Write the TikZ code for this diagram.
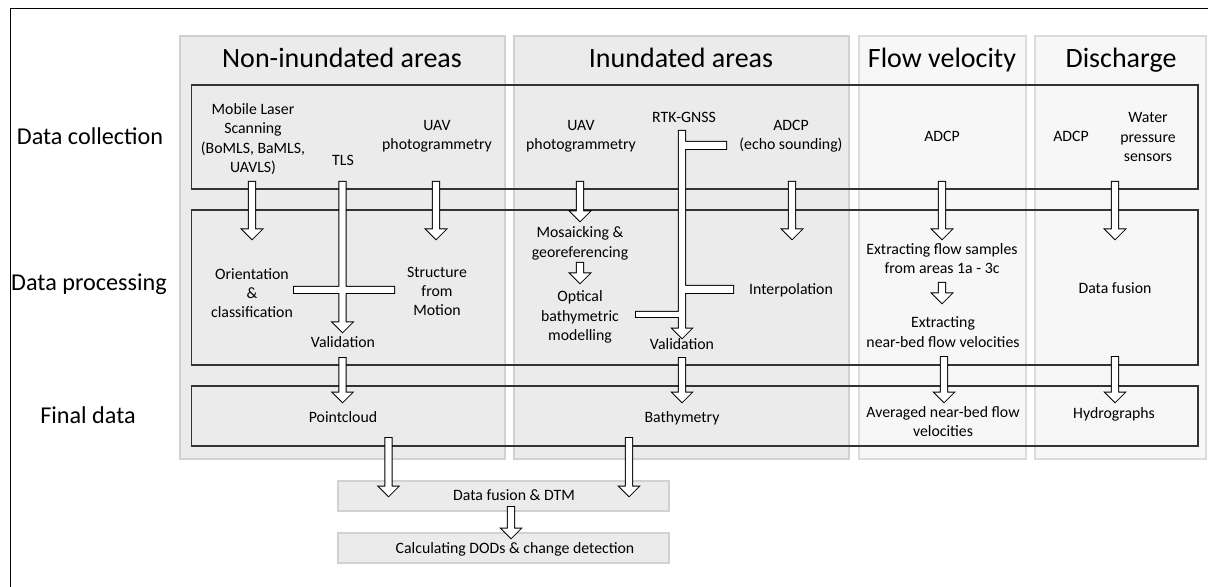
\documentclass[tikz,border=0pt]{standalone}
\usepackage{fontspec}
\setmainfont{Carlito}
\usetikzlibrary{calc}
\tikzset{
  colpanel/.style={fill=pnl,draw=pnlb,line width=0.8pt},
  colpanelw/.style={fill=pnlw,draw=pnlwb,line width=0.8pt},
  rowbox/.style={draw=black!80,line width=0.6pt},
  resbox/.style={fill=pnl,draw=pnlb,line width=0.8pt,minimum width=165.5pt,minimum height=15pt,inner sep=0pt},
  colhead/.style={font=\fontsize{14}{17}\selectfont,anchor=base,inner sep=0pt},
  rowlab/.style={font=\fontsize{12.1}{14.5}\selectfont,anchor=base,inner sep=0pt},
  txt/.style={font=\fontsize{7.9}{9.7}\selectfont,align=center,inner sep=0pt},
  txtb/.style={txt,anchor=base}
}
% hollow block arrow, optional extra branches merged into its outline
\newcommand\blockarrow[3][]{%
  \draw[line width=1pt] let \p1=(#2), \p2=(#3) in
    (\x1-1.6pt,\y1) -- (\x1-1.6pt,\y2+4.75pt) -- (\x1-4.75pt,\y2+4.75pt)
    -- (\x1,\y2) -- (\x1+4.75pt,\y2+4.75pt) -- (\x1+1.6pt,\y2+4.75pt)
    -- (\x1+1.6pt,\y1) -- cycle #1;
  \fill[white] let \p1=(#2), \p2=(#3) in
    (\x1-1.6pt,\y1) -- (\x1-1.6pt,\y2+4.75pt) -- (\x1-4.75pt,\y2+4.75pt)
    -- (\x1,\y2) -- (\x1+4.75pt,\y2+4.75pt) -- (\x1+1.6pt,\y2+4.75pt)
    -- (\x1+1.6pt,\y1) -- cycle #1;}

\begin{document}
\begin{tikzpicture}[x=0.5pt,y=-0.5pt]
    \colorlet{pnl}{black!8}
    \colorlet{pnlb}{black!18}
    \colorlet{pnlw}{black!3}
    \colorlet{pnlwb}{black!14}

    \useasboundingbox (0,0) rectangle (1208,587);
    \draw[line width=0.5pt] (10,587) -- (10,9) -- (1208,9);

    % columns
    \draw[colpanel] (180,36) rectangle (505,459);
    \draw[colpanel] (514,36) rectangle (849,459);
    \draw[colpanelw] (859,36) rectangle (1026,459);
    \draw[colpanelw] (1035,36) rectangle (1206,459);

    \node[resbox] (dtmbox) at (503.5,496) {};
    \node[resbox] (calcbox) at (503.5,548) {};

    % rows
    \draw[rowbox] (191.5,85) rectangle (1198,189);
    \draw[rowbox] (191.5,210) rectangle (1198,365);
    \draw[rowbox] (191.5,386) rectangle (1198,446);

    % arrow ends
    \coordinate (mls-o) at (252,182);      \coordinate (orient-i) at (252,239);
    \coordinate (tls-o) at (342.5,182);    \coordinate (val1-i) at (342.5,332);
    \coordinate (uav1-o) at (436,182);     \coordinate (sfm-i) at (436,239);
    \coordinate (val1-o) at (342.5,358);   \coordinate (pcl-i) at (342.5,402);
    \coordinate (pcl-o) at (388.5,438);    \coordinate (dtm-i1) at (388.5,496);
    \coordinate (uav2-o) at (580,182);     \coordinate (mosaic-i) at (580,221);
    \coordinate (mosaic-o) at (580,263);   \coordinate (optical-i) at (580,283);
    \coordinate (rtk-o) at (682,131);      \coordinate (val2-i) at (682,338);
    \coordinate (adcp1-o) at (792,182);    \coordinate (interp-i) at (792,239);
    \coordinate (val2-o) at (682,358);     \coordinate (bathy-i) at (682,402);
    \coordinate (bathy-o) at (629,438);    \coordinate (dtm-i2) at (629,496);
    \coordinate (adcp2-o) at (942,182);    \coordinate (extr1-i) at (942,239);
    \coordinate (extr1-o) at (942,283);    \coordinate (extr2-i) at (942,303);
    \coordinate (extr2-o) at (944,357);    \coordinate (avg-i) at (944,402);
    \coordinate (adcp3-o) at (1115,182);   \coordinate (dfus-i) at (1115,239);
    \coordinate (dfus-o) at (1115,357);    \coordinate (hydro-i) at (1115,402);
    \coordinate (dtm-o) at (511,507);      \coordinate (calc-i) at (511,538);

    \blockarrow{mls-o}{orient-i}
    \blockarrow[(294,287) rectangle (394,293)]{tls-o}{val1-i}
    \blockarrow{uav1-o}{sfm-i}
    \blockarrow{val1-o}{pcl-i}
    \blockarrow{pcl-o}{dtm-i1}
    \blockarrow{uav2-o}{mosaic-i}
    \blockarrow{mosaic-o}{optical-i}
    \blockarrow[(682,142) rectangle (726,149) (682,286) rectangle (733,293)
        (636,312) rectangle (682,317)]{rtk-o}{val2-i}
    \blockarrow{adcp1-o}{interp-i}
    \blockarrow{val2-o}{bathy-i}
    \blockarrow{bathy-o}{dtm-i2}
    \blockarrow{adcp2-o}{extr1-i}
    \blockarrow{extr1-o}{extr2-i}
    \blockarrow{extr2-o}{avg-i}
    \blockarrow{adcp3-o}{dfus-i}
    \blockarrow{dfus-o}{hydro-i}
    \blockarrow{dtm-o}{calc-i}

    % headings
    \node[colhead] (h-non) at (342,68) {Non-inundated areas};
    \node[colhead] (h-inu) at (681,68) {Inundated areas};
    \node[colhead] (h-flow) at (942,68) {Flow velocity};
    \node[colhead] (h-dis) at (1121,68) {Discharge};

    \node[rowlab] (r-col) at (90,145) {Data collection};
    \node[rowlab] (r-pro) at (89,291) {Data processing};
    \node[rowlab] (r-fin) at (88,423) {Final data};

    % non-inundated
    \node[txt] (mls) at (253,139) {Mobile Laser\\Scanning\\(BoMLS, BaMLS,\\UAVLS)};
    \node[txtb] (tls) at (343,166) {TLS};
    \node[txt] (uav1) at (437,136) {UAV\\photogrammetry};
    \node[txt] (orient) at (252,293) {Orientation\\\&\\classification};
    \node[txt] (sfm) at (437,291.5) {Structure\\from\\Motion};
    \node[txtb] (val1) at (343,347) {Validation};
    \node[txtb] (pcl) at (343,422) {Pointcloud};

    % inundated
    \node[txt] (uav2) at (581,136) {UAV\\photogrammetry};
    \node[txtb] (rtk) at (684,123) {RTK-GNSS};
    \node[txt] (adcp1) at (791,136) {ADCP\\(echo sounding)};
    \node[txt] (mosaic) at (580,243.5) {Mosaicking \&\\georeferencing};
    \node[txt] (optical) at (580,317) {Optical\\bathymetric\\modelling};
    \node[txtb] (interp) at (791,294) {Interpolation};
    \node[txtb] (val2) at (682,350) {Validation};
    \node[txtb] (bathy) at (682,422) {Bathymetry};

    % flow velocity
    \node[txtb] (adcp2) at (942,142) {ADCP};
    \node[txt] (extr1) at (942,258.5) {Extracting flow samples\\from areas 1a - 3c};
    \node[txt] (extr2) at (943,332) {Extracting\\near-bed flow velocities};
    \node[txt] (avg) at (943,421.5) {Averaged near-bed flow\\velocities};

    % discharge
    \node[txtb] (adcp3) at (1071,142) {ADCP};
    \node[txt] (wps) at (1148,137) {Water\\pressure\\sensors};
    \node[txtb] (dfus) at (1115,293) {Data fusion};
    \node[txtb] (hydro) at (1114,418) {Hydrographs};

    \node[txtb] (dtm) at (514,500) {Data fusion \& DTM};
    \node[txtb] (calc) at (515,553) {Calculating DODs \& change detection};
\end{tikzpicture}
\end{document}
